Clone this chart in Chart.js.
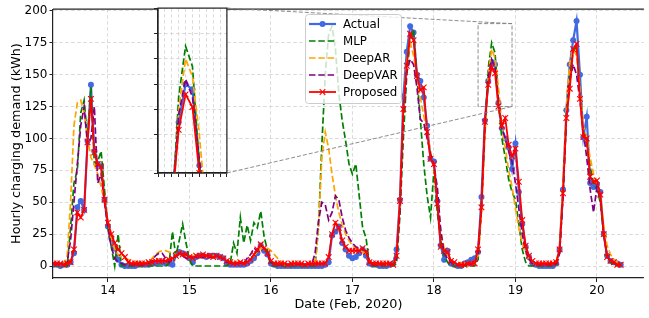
<!DOCTYPE html>
<html><head><meta charset="utf-8">
<script src="https://cdn.jsdelivr.net/npm/chart.js@4.4.1/dist/chart.umd.min.js"></script>
<style>
html,body{margin:0;padding:0;background:#fff;}
#wrap{position:relative;width:649px;height:318px;overflow:hidden;}
#main{position:absolute;left:0;top:0;}
#inset{position:absolute;left:150px;top:3px;}
</style></head><body>
<div id="wrap"><canvas id="main" width="649" height="318"></canvas><canvas id="inset" width="82" height="176"></canvas></div>
<script>
// ---- data (hourly, first point = Feb 13, 08:00) ----
const startHour = 8;            // hours after Feb 13 00:00
const dayTicks = [14, 15, 16, 17, 18, 19, 20];
const yTicks = [0, 25, 50, 75, 100, 125, 150, 175, 200];
const seriesNames = ['Actual', 'MLP', 'DeepAR', 'DeepVAR', 'Proposed'];

const actual = [
 1,1,0,1,1,3,10,46,51,44,98,142,90,80,78,52,31,22,14,5,1,0,0,0,
 0,1,1,1,1,2,2,3,3,2,2,1,9,11,10,9,6,3,7,8,8,7,8,8,
 8,7,6,2,1,1,1,1,1,2,4,6,10,16,12,9,2,1,0,0,0,0,0,0,
 0,0,0,0,0,0,0,0,1,3,24,27,31,18,13,8,6,7,10,13,8,2,1,1,
 0,0,0,1,2,13,52,133,168,188,183,150,145,132,110,84,82,51,16,5,12,2,1,0,
 0,2,3,5,6,11,54,114,145,160,158,128,108,100,93,76,96,58,33,15,7,2,1,0,
 0,0,0,0,2,13,60,122,158,177,192,150,101,117,65,62,64,58,25,8,4,3,2,1
];
const mlp = [
 0,0,0,0,0,30,65,75,120,130,100,140,80,82,90,60,30,15,0,25,0,0,0,0,
 0,0,0,0,0,0,0,0,0,0,2,27,8,20,33,18,5,0,0,0,0,0,0,0,
 0,0,0,0,2,18,10,38,18,32,20,34,30,43,23,12,0,0,0,0,0,0,0,0,
 0,0,0,0,0,0,30,95,150,182,188,170,135,114,98,80,72,80,55,30,22,2,0,0,
 0,0,0,0,0,2,40,100,150,177,185,148,115,80,55,38,75,42,20,8,3,0,0,0,
 0,0,0,0,0,5,45,108,155,175,167,128,100,85,68,58,52,33,13,3,0,0,0,0,
 0,0,0,0,1,10,55,118,150,168,172,140,105,95,78,65,60,50,25,8,3,1,0,0
];
const deepar = [
 1,1,1,1,8,50,110,128,130,120,100,85,80,72,62,50,35,22,13,9,7,6,5,4,
 3,3,2,2,3,6,9,11,12,12,11,10,9,9,9,8,8,8,8,7,7,7,8,8,
 7,7,6,5,3,3,3,3,3,3,5,8,11,14,15,14,12,9,6,3,1,1,1,1,
 1,1,1,1,1,1,30,85,105,92,72,55,42,32,25,20,16,14,12,11,10,4,2,2,
 1,1,1,1,1,8,50,120,160,175,165,148,132,118,104,90,75,55,28,14,9,5,3,2,
 2,2,2,2,3,8,40,100,150,170,163,140,110,93,75,62,45,30,18,10,5,3,2,2,
 2,2,2,2,3,15,65,125,160,170,165,140,110,100,85,72,65,55,32,16,9,5,3,2
];
const deepvar = [
 1,1,1,1,3,20,50,80,110,125,95,100,125,65,72,50,30,15,6,3,2,1,1,1,
 1,1,1,1,2,4,8,10,10,6,3,5,8,9,8,6,7,7,7,7,7,7,7,7,
 7,7,6,3,2,2,2,2,2,6,9,14,12,16,14,10,3,1,1,1,1,1,1,1,
 1,1,1,1,1,10,35,50,48,36,42,55,52,38,28,22,18,15,14,13,12,4,1,1,
 1,1,1,1,1,6,45,118,152,162,158,140,115,112,100,88,78,62,28,10,6,3,1,1,
 1,1,1,1,2,10,45,108,148,162,155,130,108,100,90,82,65,45,25,12,5,2,1,1,
 1,1,1,1,2,10,55,115,145,158,150,130,105,85,60,42,62,52,25,8,4,2,1,1
];
const proposed = [
 2,2,2,1,2,3,13,42,38,44,97,131,89,80,78,52,34,25,18,13,10,7,3,2,
 2,2,2,2,3,3,4,4,4,4,5,6,8,10,9,9,7,6,8,8,9,8,8,7,
 8,7,6,4,3,2,2,3,2,3,5,9,13,17,14,10,4,2,2,2,2,1,2,2,
 2,2,1,2,2,2,2,2,2,7,25,34,30,20,15,12,12,12,12,14,11,3,2,2,
 2,2,2,2,1,8,51,123,157,182,177,149,138,140,105,84,80,49,15,12,11,4,3,1,
 1,1,2,2,2,13,46,113,142,156,151,125,110,116,95,86,92,66,36,16,8,4,2,2,
 2,2,2,2,3,13,57,116,139,170,174,131,101,100,70,66,67,56,25,7,4,3,1,1
];
// inset window (hours after Feb 13 00:00, kWh)
const insetHours = [133, 143];
const insetRange = [125, 190];

// ---- build ----
Chart.defaults.font.family = "'DejaVu Sans', sans-serif";
Chart.defaults.font.size = 12;
Chart.defaults.color = '#000';

const DASH = [6.5, 2.8];
const styles = [
  {borderColor:'#4169E1', backgroundColor:'#4169E1', borderWidth:2.2, pointRadius:3, pointStyle:'circle', pointBorderWidth:0, order:5},
  {borderColor:'#008000', backgroundColor:'#008000', borderWidth:1.7, borderDash:DASH, pointRadius:0, order:4},
  {borderColor:'#FFA500', backgroundColor:'#FFA500', borderWidth:1.7, borderDash:DASH, pointRadius:0, order:3},
  {borderColor:'#800080', backgroundColor:'#800080', borderWidth:1.7, borderDash:DASH, pointRadius:0, order:2},
  {borderColor:'#FF0000', backgroundColor:'#FF0000', borderWidth:1.8, pointRadius:4, pointStyle:'crossRot', pointBorderColor:'#FF0000', pointBorderWidth:1.1, order:1}
];
const values = [actual, mlp, deepar, deepvar, proposed];
function toXY(arr){ return arr.map((v,i)=>({x: startHour + i, y: v})); }
function makeDatasets(){
  return values.map((arr,k)=>Object.assign({label: seriesNames[k], data: toXY(arr), fill:false, tension:0, pointHoverRadius:0}, styles[k]));
}
const GRID = '#d2d2d2';

// inset chart
const insetFrame = {
  id:'insetFrame',
  beforeDraw(chart){
    const a = chart.chartArea, c = chart.ctx;
    c.save(); c.fillStyle = '#fff'; c.fillRect(a.left, a.top, a.right-a.left, a.bottom-a.top); c.restore();
  },
  afterDraw(chart){
    const a = chart.chartArea, c = chart.ctx;
    c.save(); c.strokeStyle = '#222'; c.lineWidth = 1.2;
    c.strokeRect(a.left, a.top, a.right-a.left, a.bottom-a.top); c.restore();
  }
};
const insetChart = new Chart(document.getElementById('inset'), {
  type:'line',
  data:{datasets: makeDatasets()},
  options:{
    responsive:false, animation:false, devicePixelRatio:1, events:[],
    layout:{padding:{top:4, right:5, left:0, bottom:0}},
    plugins:{legend:{display:false}, tooltip:{enabled:false}},
    scales:{
      x:{type:'linear', min:insetHours[0], max:insetHours[1], afterFit(s){s.height=6;},
         ticks:{display:false, stepSize:1},
         grid:{color:GRID, lineWidth:0.8, tickLength:4, tickColor:'#222', tickWidth:1},
         border:{display:true, color:'#222', width:1.2, dash:[3.5,2.5]}},
      y:{type:'linear', min:insetRange[0], max:insetRange[1], afterFit(s){s.width=8;},
         ticks:{display:false, stepSize:10},
         grid:{color:GRID, lineWidth:0.8, tickLength:4, tickColor:'#222', tickWidth:1},
         border:{display:true, color:'#222', width:1.2, dash:[3.5,2.5]}}
    }
  },
  plugins:[insetFrame]
});

// main chart decorations
const deco = {
  id:'deco',
  afterDatasetsDraw(chart){
    const c = chart.ctx, xs = chart.scales.x, ys = chart.scales.y, a = chart.chartArea;
    c.save(); c.strokeStyle='#222'; c.lineWidth=1.2;
    c.beginPath(); c.moveTo(a.left, a.top); c.lineTo(a.right, a.top); c.stroke(); c.restore();
    const x1 = xs.getPixelForValue(insetHours[0]), x2 = xs.getPixelForValue(insetHours[1]);
    const y1 = ys.getPixelForValue(insetRange[1]), y2 = ys.getPixelForValue(insetRange[0]);
    const ic = insetChart.canvas, ia = insetChart.chartArea;
    const iR = ic.offsetLeft + ia.right, iT = ic.offsetTop + ia.top, iB = ic.offsetTop + ia.bottom;
    c.save(); c.strokeStyle='#808080'; c.lineWidth=0.9; c.setLineDash([4,2]);
    c.strokeRect(x1, y1, x2-x1, y2-y1);
    c.beginPath(); c.moveTo(iR, iT); c.lineTo(x2, y1); c.moveTo(iR, iB); c.lineTo(x2, y2); c.stroke();
    c.restore();
  },
  afterDraw(chart){
    const c = chart.ctx;
    const bx = 305.5, by = 14.5, bw = 96, bh = 89, r = 3;
    c.save();
    c.beginPath();
    c.moveTo(bx+r, by); c.lineTo(bx+bw-r, by); c.quadraticCurveTo(bx+bw, by, bx+bw, by+r);
    c.lineTo(bx+bw, by+bh-r); c.quadraticCurveTo(bx+bw, by+bh, bx+bw-r, by+bh);
    c.lineTo(bx+r, by+bh); c.quadraticCurveTo(bx, by+bh, bx, by+bh-r);
    c.lineTo(bx, by+r); c.quadraticCurveTo(bx, by, bx+r, by); c.closePath();
    c.fillStyle='rgba(255,255,255,0.8)'; c.fill();
    c.strokeStyle='#cccccc'; c.lineWidth=1; c.stroke();
    chart.data.datasets.forEach((ds,k)=>{
      const y = 24 + k*17;
      c.save();
      c.strokeStyle = ds.borderColor; c.lineWidth = ds.borderWidth;
      c.setLineDash(ds.borderDash || []);
      c.beginPath(); c.moveTo(309, y); c.lineTo(336, y); c.stroke();
      c.setLineDash([]);
      if (ds.pointStyle === 'circle') {
        c.fillStyle = ds.backgroundColor; c.beginPath(); c.arc(322.5, y, 3, 0, Math.PI*2); c.fill();
      } else if (ds.pointStyle === 'crossRot') {
        c.lineWidth = 1.1; c.beginPath();
        c.moveTo(319.7, y-2.8); c.lineTo(325.3, y+2.8); c.moveTo(319.7, y+2.8); c.lineTo(325.3, y-2.8); c.stroke();
      }
      c.restore();
      c.fillStyle='#000'; c.font="11.8px 'DejaVu Sans', sans-serif"; c.textBaseline='middle'; c.textAlign='left';
      c.fillText(ds.label, 343, y+0.5);
    });
    c.restore();
  }
};

new Chart(document.getElementById('main'), {
  type:'line',
  data:{datasets: makeDatasets()},
  options:{
    responsive:false, animation:false, devicePixelRatio:1, events:[],
    layout:{padding:{top:9, right:1, left:0, bottom:0}},
    plugins:{legend:{display:false}, tooltip:{enabled:false}},
    scales:{
      x:{type:'linear', min:7.83, max:181.83, afterFit(s){s.height=40;},
         afterBuildTicks(s){ s.ticks = dayTicks.map(d=>({value:(d-13)*24})); },
         ticks:{autoSkip:false, maxRotation:0, padding:2, color:'#000',
                callback:(v)=>String(13 + v/24)},
         grid:{color:GRID, lineWidth:0.8, tickLength:4, tickColor:'#222', tickWidth:1},
         border:{display:true, color:'#222', width:1.2, dash:[3.5,2.5]},
         title:{display:true, text:'Date (Feb, 2020)', color:'#000', font:{size:12.8}, padding:{top:0, bottom:5.5}}},
      y:{type:'linear', min:-9.4, max:201.3, afterFit(s){s.width=53;},
         afterBuildTicks(s){ s.ticks = yTicks.map(v=>({value:v})); },
         ticks:{padding:2, color:'#000'},
         grid:{color:GRID, lineWidth:0.8, tickLength:3.5, tickColor:'#222', tickWidth:1},
         border:{display:true, color:'#222', width:1.2, dash:[3.5,2.5]},
         title:{display:true, text:'Hourly charging demand (kWh)', color:'#000', font:{size:12.8}, padding:{top:9.3, bottom:0}}}
    }
  },
  plugins:[deco]
});
</script>
</body></html>
